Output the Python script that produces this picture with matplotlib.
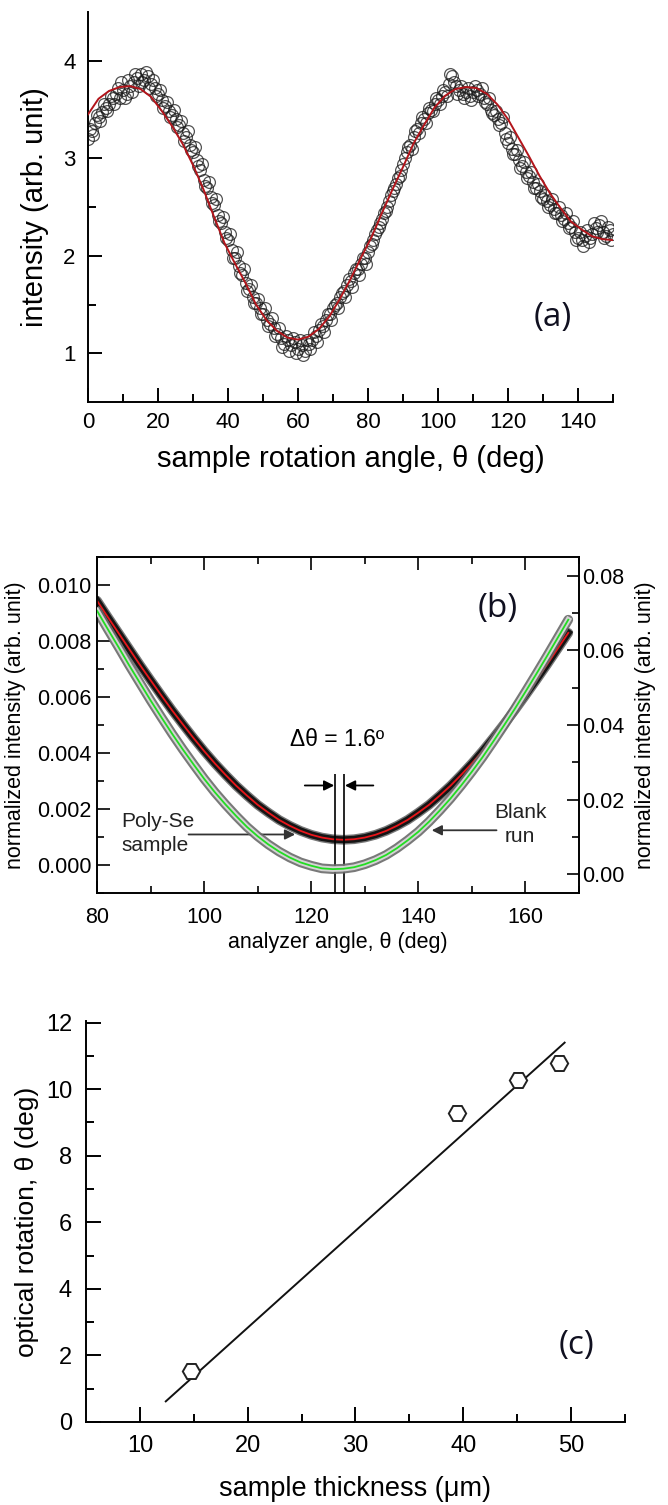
import matplotlib
matplotlib.use('Agg')
import matplotlib.pyplot as plt
from matplotlib.ticker import FixedLocator, FormatStrFormatter

plt.rcParams['font.family'] = ['Liberation Sans', 'DejaVu Sans']

# ---------------- panel (a) data ----------------
a_angle = list(range(0, 151))
a_intensity = [
    3.20, 3.28, 3.36, 3.42, 3.47, 3.52, 3.56, 3.62, 3.66, 3.62,
    3.70, 3.66, 3.74, 3.78, 3.82, 3.86, 3.80, 3.84, 3.76, 3.72,
    3.66, 3.60, 3.54, 3.48, 3.44, 3.40, 3.34, 3.26, 3.22, 3.14,
    3.06, 2.98, 2.88, 2.78, 2.70, 2.60, 2.52, 2.42, 2.34, 2.24,
    2.16, 2.06, 1.98, 1.90, 1.80, 1.72, 1.66, 1.58, 1.52, 1.46,
    1.40, 1.34, 1.30, 1.26, 1.20, 1.16, 1.10, 1.14, 1.08, 1.12,
    1.04, 1.08, 1.02, 1.10, 1.14, 1.18, 1.24, 1.28, 1.34, 1.40,
    1.46, 1.52, 1.58, 1.64, 1.70, 1.74, 1.82, 1.86, 1.92, 1.98,
    2.04, 2.12, 2.22, 2.30, 2.38, 2.46, 2.56, 2.66, 2.74, 2.82,
    2.94, 3.06, 3.14, 3.22, 3.30, 3.36, 3.40, 3.46, 3.50, 3.56,
    3.60, 3.64, 3.68, 3.76, 3.84, 3.74, 3.70, 3.66, 3.68, 3.64,
    3.68, 3.70, 3.66, 3.62, 3.56, 3.50, 3.44, 3.40, 3.36, 3.26,
    3.16, 3.10, 3.04, 2.98, 2.92, 2.86, 2.82, 2.76, 2.70, 2.66,
    2.58, 2.56, 2.52, 2.48, 2.44, 2.42, 2.38, 2.34, 2.30, 2.24,
    2.18, 2.16, 2.20, 2.14, 2.22, 2.28, 2.32, 2.24, 2.20, 2.26,
    2.22]
a_angle_half = [i + 0.5 for i in range(150)]
a_intensity_half = [
    3.30, 3.24, 3.44, 3.38, 3.56, 3.48, 3.64, 3.56, 3.72, 3.78,
    3.62, 3.80, 3.68, 3.86, 3.74, 3.78, 3.88, 3.72, 3.80, 3.64,
    3.70, 3.52, 3.58, 3.42, 3.50, 3.32, 3.38, 3.18, 3.28, 3.08,
    3.12, 2.92, 2.94, 2.72, 2.76, 2.54, 2.58, 2.36, 2.40, 2.18,
    2.22, 1.98, 2.04, 1.82, 1.86, 1.64, 1.70, 1.52, 1.56, 1.40,
    1.46, 1.28, 1.36, 1.18, 1.26, 1.06, 1.18, 1.02, 1.16, 1.00,
    1.14, 0.98, 1.14, 1.04, 1.22, 1.12, 1.30, 1.22, 1.40, 1.34,
    1.50, 1.46, 1.62, 1.58, 1.76, 1.68, 1.86, 1.80, 1.98, 1.92,
    2.10, 2.16, 2.26, 2.34, 2.44, 2.50, 2.62, 2.70, 2.80, 2.88,
    3.00, 3.12, 3.10, 3.28, 3.26, 3.42, 3.36, 3.52, 3.48, 3.62,
    3.56, 3.70, 3.64, 3.86, 3.78, 3.66, 3.74, 3.62, 3.72, 3.60,
    3.74, 3.64, 3.72, 3.58, 3.62, 3.46, 3.48, 3.34, 3.42, 3.20,
    3.22, 3.04, 3.08, 2.90, 2.96, 2.80, 2.86, 2.70, 2.74, 2.60,
    2.62, 2.50, 2.58, 2.44, 2.50, 2.36, 2.44, 2.28, 2.36, 2.16,
    2.24, 2.10, 2.26, 2.18, 2.34, 2.24, 2.36, 2.18, 2.30, 2.16]
a_fit_angle = [0, 3, 6, 9, 12, 15, 18, 21, 24, 27, 30, 33, 36, 39, 42, 45,
               48, 51, 54, 57, 60, 63, 66, 69, 72, 75, 78, 81, 84, 87, 90,
               93, 96, 99, 102, 105, 108, 111, 114, 117, 120, 123, 126, 129,
               132, 135, 138, 141, 144, 147, 150]
a_fit = [3.45, 3.61, 3.69, 3.73, 3.74, 3.71, 3.63, 3.49, 3.33, 3.15, 2.93,
         2.68, 2.40, 2.13, 1.92, 1.72, 1.50, 1.34, 1.23, 1.16, 1.14, 1.17,
         1.25, 1.38, 1.56, 1.76, 1.98, 2.19, 2.44, 2.68, 2.91, 3.15, 3.34,
         3.52, 3.64, 3.71, 3.73, 3.72, 3.66, 3.55, 3.40, 3.21, 3.02, 2.82,
         2.64, 2.49, 2.35, 2.27, 2.20, 2.17, 2.16]
a_xticks = [0, 20, 40, 60, 80, 100, 120, 140]
a_yticks = [1, 2, 3, 4]

# ---------------- panel (b) data ----------------
b_angle = [80, 82, 84, 86, 88, 90, 92, 94, 96, 98, 100, 102, 104, 106, 108,
           110, 112, 114, 116, 118, 120, 122, 124, 126, 128, 130, 132, 134,
           136, 138, 140, 142, 144, 146, 148, 150, 152, 154, 156, 158, 160,
           162, 164, 166, 168]
b_sample = [0.00944, 0.00886, 0.00829, 0.00772, 0.00715, 0.00660, 0.00606,
            0.00553, 0.00503, 0.00454, 0.00407, 0.00363, 0.00322, 0.00283,
            0.00248, 0.00215, 0.00187, 0.00161, 0.00140, 0.00122, 0.00108,
            0.00098, 0.00092, 0.00090, 0.00092, 0.00098, 0.00108, 0.00122,
            0.00140, 0.00161, 0.00187, 0.00215, 0.00248, 0.00283, 0.00322,
            0.00363, 0.00407, 0.00454, 0.00503, 0.00553, 0.00606, 0.00660,
            0.00715, 0.00772, 0.00829]
b_blank = [0.0706, 0.0657, 0.0609, 0.0560, 0.0513, 0.0466, 0.0421, 0.0377,
           0.0335, 0.0295, 0.0256, 0.0220, 0.0187, 0.0156, 0.0127, 0.0102,
           0.0080, 0.0061, 0.0045, 0.0032, 0.0023, 0.0016, 0.0014, 0.0015,
           0.0019, 0.0027, 0.0038, 0.0052, 0.0070, 0.0091, 0.0114, 0.0141,
           0.0171, 0.0203, 0.0238, 0.0275, 0.0314, 0.0356, 0.0399, 0.0443,
           0.0489, 0.0536, 0.0584, 0.0633, 0.0682]
b_minima = [124.5, 126.1]
b_xticks = [80, 100, 120, 140, 160]
b_yticks_left = [0.000, 0.002, 0.004, 0.006, 0.008, 0.010]
b_yticks_right = [0.00, 0.02, 0.04, 0.06, 0.08]

# ---------------- panel (c) data ----------------
c_thickness = [14.7, 39.4, 45.1, 48.9]
c_rotation = [1.52, 9.29, 10.28, 10.8]
c_fit_thickness = [12.4, 49.4]
c_fit_rotation = [0.62, 11.4]
c_xticks = [10, 20, 30, 40, 50]
c_yticks = [0, 2, 4, 6, 8, 10, 12]

W, H = 668, 1505
fig = plt.figure(figsize=(W / 100, H / 100), dpi=100)
fig.patch.set_facecolor('white')

def rect(l, t, r, b):
    return [l / W, 1 - b / H, (r - l) / W, (b - t) / H]

label_color = '#101020'
panel_font = ['Open Sans', 'DejaVu Sans']

# ================= panel (a) =================
ax = fig.add_axes(rect(88, 12, 613, 402))
ax.plot(a_angle, a_intensity, 'o', ms=8.5, mfc='none', mec='#1a1a1a',
        mew=0.9, alpha=0.75, zorder=2)
ax.plot(a_angle_half, a_intensity_half, 'o', ms=8.5, mfc='none',
        mec='#1a1a1a', mew=0.9, alpha=0.75, zorder=2)
ax.plot(a_fit_angle, a_fit, '-', color='#b3151b', lw=1.4, zorder=3)
ax.set_xlim(0, 150)
ax.set_ylim(0.5, 4.5)
ax.spines['top'].set_visible(False)
ax.spines['right'].set_visible(False)
for s in ('left', 'bottom'):
    ax.spines[s].set_linewidth(1.4)
ax.xaxis.set_major_locator(FixedLocator(a_xticks))
ax.xaxis.set_minor_locator(FixedLocator([10, 30, 50, 70, 90, 110, 130, 150]))
ax.yaxis.set_major_locator(FixedLocator(a_yticks))
ax.yaxis.set_minor_locator(FixedLocator([1.5, 2.5]))
ax.tick_params(which='major', direction='in', length=10, width=1.4, labelsize=16)
ax.tick_params(which='minor', direction='in', length=5.5, width=1.4)
ax.tick_params(axis='x', which='major', pad=7)
ax.tick_params(axis='y', which='major', pad=9)
ax.set_xlabel('sample rotation angle, θ (deg)', fontsize=21, labelpad=9)
ax.set_ylabel('intensity (arb. unit)', fontsize=21, labelpad=10)
ax.text(132.8, 1.37, '(a)', family=panel_font, fontsize=24, ha='center',
        va='center', color=label_color)

# ================= panel (b) =================
bx = fig.add_axes(rect(97, 557, 579, 893))
bx.plot(b_angle, b_sample, '-', color='#555555', lw=7, alpha=0.8,
        solid_capstyle='round', zorder=2)
bx.plot(b_angle, b_sample, '-', color='#151515', lw=5, zorder=2)
bx.plot(b_angle, b_sample, '-', color='#e8161a', lw=1.3, zorder=3)
bx.set_xlim(80, 170)
bx.set_ylim(-0.001, 0.011)
bx.xaxis.set_major_locator(FixedLocator(b_xticks))
bx.xaxis.set_minor_locator(FixedLocator([90, 110, 130, 150, 170]))
bx.yaxis.set_major_locator(FixedLocator(b_yticks_left))
bx.yaxis.set_minor_locator(FixedLocator([-0.001, 0.001, 0.003, 0.005, 0.007, 0.009, 0.011]))
bx.yaxis.set_major_formatter(FormatStrFormatter('%.3f'))
bx.tick_params(which='both', direction='in', top=True, right=False, width=1.2)
bx.tick_params(which='major', length=9, labelsize=15.5)
bx.tick_params(which='minor', length=5)
bx.tick_params(axis='x', which='major', pad=10)
bx.tick_params(axis='y', which='major', pad=4)
for s in bx.spines.values():
    s.set_linewidth(1.2)
bx.set_xlabel('analyzer angle, θ (deg)', fontsize=15.5, labelpad=3)
bx.set_ylabel('normalized intensity (arb. unit)', fontsize=15.5, labelpad=8)

bx2 = bx.twinx()
bx2.plot(b_angle, b_blank, '-', color='#6a6a6a', lw=7, alpha=0.9,
         solid_capstyle='round', zorder=2)
bx2.plot(b_angle, b_blank, '-', color='#d4d4d4', lw=4, zorder=3)
bx2.plot(b_angle, b_blank, '-', color='#22dd22', lw=1.3, zorder=4)
bx2.set_ylim(-0.005, 0.085)
bx2.yaxis.set_major_locator(FixedLocator(b_yticks_right))
bx2.yaxis.set_minor_locator(FixedLocator([0.01, 0.03, 0.05, 0.07]))
bx2.yaxis.set_major_formatter(FormatStrFormatter('%.2f'))
bx2.tick_params(which='both', direction='in', width=1.2)
bx2.tick_params(which='major', length=9, labelsize=15.5, pad=2)
bx2.tick_params(which='minor', length=5)
bx2.set_ylabel('normalized intensity (arb. unit)', fontsize=15.5, labelpad=8)
for s in bx2.spines.values():
    s.set_linewidth(1.2)

# annotations (in left-axis coordinates)
bx.vlines(b_minima, -0.001, 0.00325, color='black', lw=1.2, zorder=5)
arrow_kw = dict(arrowstyle='-|>', color='black', lw=1.3, mutation_scale=15,
                shrinkA=0, shrinkB=0)
bx.annotate('', xy=(124.3, 0.00284), xytext=(118.8, 0.00284),
            arrowprops=arrow_kw, zorder=6)
bx.annotate('', xy=(126.3, 0.00284), xytext=(131.6, 0.00284),
            arrowprops=arrow_kw, zorder=6)
bx.text(124.9, 0.00447, 'Δθ = 1.6º', fontsize=16.5, ha='center', va='center')
arrow_kw2 = dict(arrowstyle='-|>', color='#333333', lw=1.3, mutation_scale=15,
                 shrinkA=0, shrinkB=0)
bx.annotate('', xy=(117.0, 0.00109), xytext=(97.1, 0.00109),
            arrowprops=arrow_kw2, zorder=6)
bx.text(84.6, 0.00113, 'Poly-Se\nsample', fontsize=15, ha='left',
        va='center', linespacing=1.35, color='#222222')
bx.annotate('', xy=(142.5, 0.00124), xytext=(154.6, 0.00124),
            arrowprops=arrow_kw2, zorder=6)
bx.text(159.0, 0.00145, 'Blank\nrun', fontsize=15, ha='center',
        va='center', linespacing=1.35, color='#222222')
bx.text(154.9, 0.00915, '(b)', family=panel_font, fontsize=24, ha='center',
        va='center', color=label_color)

# ================= panel (c) =================
cx = fig.add_axes(rect(86, 1021, 625, 1422))
cx.plot(c_fit_thickness, c_fit_rotation, '-', color='#111111', lw=1.4)
cx.plot(c_thickness, c_rotation, 'H', ms=12.5, mfc='white', mec='#222222',
        mew=1.4, zorder=3)
cx.set_xlim(5, 55)
cx.set_ylim(0, 12.05)
cx.spines['top'].set_visible(False)
cx.spines['right'].set_visible(False)
for s in ('left', 'bottom'):
    cx.spines[s].set_linewidth(1.4)
cx.xaxis.set_major_locator(FixedLocator(c_xticks))
cx.xaxis.set_minor_locator(FixedLocator([15, 25, 35, 45, 55]))
cx.yaxis.set_major_locator(FixedLocator(c_yticks))
cx.yaxis.set_minor_locator(FixedLocator([1, 3, 5, 7, 9, 11]))
cx.tick_params(which='major', direction='in', length=10.5, width=1.4, labelsize=17)
cx.tick_params(which='minor', direction='in', length=5.5, width=1.4)
cx.tick_params(axis='x', which='major', pad=9)
cx.tick_params(axis='y', which='major', pad=10)
cx.set_xlabel('sample thickness (μm)', fontsize=19.5, labelpad=14)
cx.set_ylabel('optical rotation, θ (deg)', fontsize=19, labelpad=5)
cx.text(50.5, 2.3, '(c)', family=panel_font, fontsize=24, ha='center',
        va='center', color=label_color)

fig.savefig('out.png', dpi=100, facecolor='white')
